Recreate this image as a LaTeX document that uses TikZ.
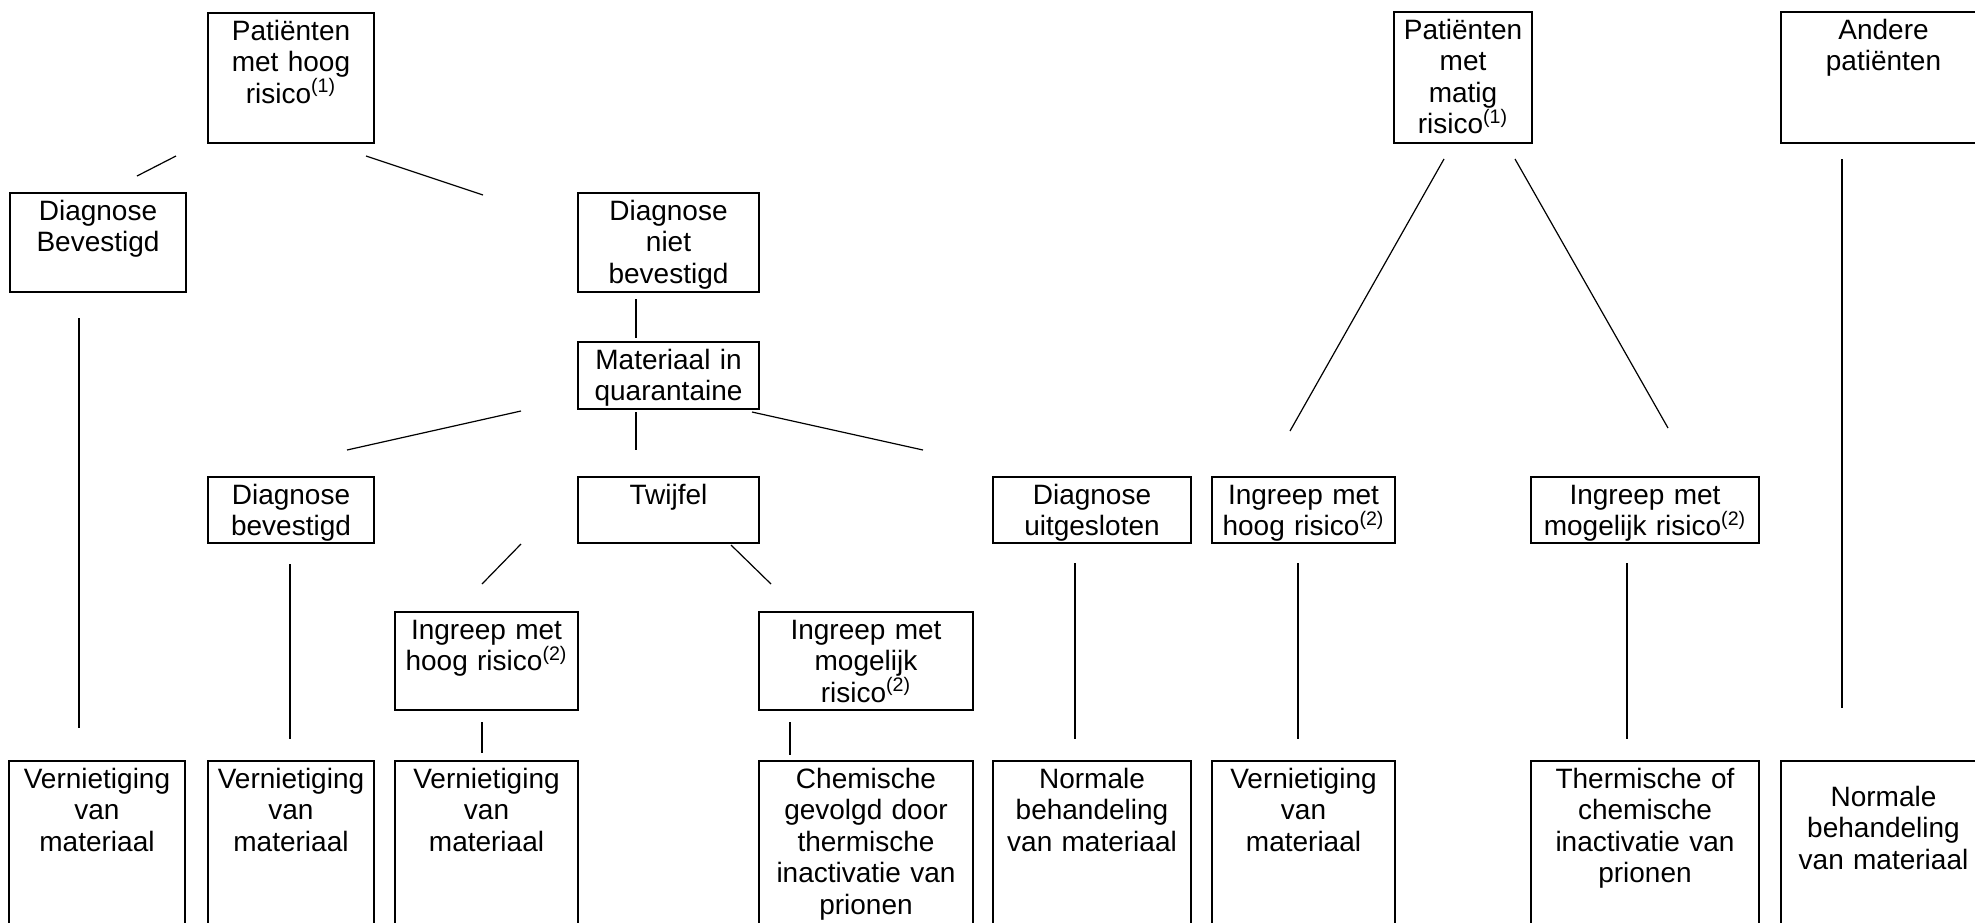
\documentclass[tikz,border=0pt]{standalone}
\usepackage{fontspec}
\setmainfont{Liberation Sans}

\begin{document}
\begin{tikzpicture}[x=0.5pt, y=-0.5pt, every node/.style={draw, line width=0.9pt, anchor=north west, align=center, inner xsep=0pt, inner ysep=3.5pt, outer sep=0pt, text height=10pt, font=\fontsize{14}{15.75}\selectfont}, link/.style={line width=0.6pt}]
\useasboundingbox (0,0) rectangle (1975,922);
\clip (0,0) rectangle (1975,922);

\node[text width=83pt, text depth=48pt] (hoog) at (208,13) {Patiënten\\met hoog\\risico\textsuperscript{(1)}};
\node[text width=69pt, text depth=48.5pt] (matig) at (1394,12) {Patiënten\\met\\matig\\risico\textsuperscript{(1)}};
\node[text width=102.5pt, text depth=48.5pt] (andere) at (1781,12) {Andere\\patiënten};

\node[text width=88pt, text depth=32.5pt] (dbev) at (10,193) {Diagnose\\Bevestigd};
\node[text width=90.5pt, text depth=32.5pt] (dniet) at (578,193) {Diagnose\\niet\\bevestigd};
\node[text width=90.5pt, text depth=16.5pt] (quar) at (578,342) {Materiaal in\\quarantaine};

\node[text width=83pt, text depth=16pt] (dbev2) at (208,477) {Diagnose\\bevestigd};
\node[text width=90.5pt, text depth=16pt] (twijfel) at (578,477) {Twijfel};
\node[text width=99pt, text depth=16pt] (duit) at (993,477) {Diagnose\\uitgesloten};
\node[text width=91.5pt, text depth=16pt] (ihr2) at (1212,477) {Ingreep met\\hoog risico\textsuperscript{(2)}};
\node[text width=114pt, text depth=16pt] (imr2) at (1531,477) {Ingreep met\\mogelijk risico\textsuperscript{(2)}};

\node[text width=91.5pt, text depth=32pt] (ihr) at (395,612) {Ingreep met\\hoog risico\textsuperscript{(2)}};
\node[text width=107pt, text depth=32pt] (imr) at (759,612) {Ingreep met\\mogelijk\\risico\textsuperscript{(2)}};

\node[text width=88pt, text depth=83pt] (v1) at (9,761) {Vernietiging\\van\\materiaal};
\node[text width=83pt, text depth=83pt] (v2) at (208,761) {Vernietiging\\van\\materiaal};
\node[text width=91.5pt, text depth=83pt] (v3) at (395,761) {Vernietiging\\van\\materiaal};
\node[text width=107pt, text depth=83pt] (chem) at (759,761) {Chemische\\gevolgd door\\thermische\\inactivatie van\\prionen};
\node[text width=99pt, text depth=83pt] (norm1) at (993,761) {Normale\\behandeling\\van materiaal};
\node[text width=91.5pt, text depth=83pt] (v4) at (1212,761) {Vernietiging\\van\\materiaal};
\node[text width=114pt, text depth=83pt] (therm) at (1531,761) {Thermische of\\chemische\\inactivatie van\\prionen};
\node[text width=102.5pt, text height=19pt, text depth=74pt] (norm2) at (1781,761) {Normale\\behandeling\\van materiaal};

\draw[link] ([shift={(-32,13)}]hoog.south west) -- ([shift={(-49,-17)}]dbev.north east);
\draw[link] ([shift={(-8,13)}]hoog.south east) -- ([shift={(-95,2)}]dniet.north west);
\draw[link] ([shift={(58,7)}]dniet.south west) -- ([shift={(58,-4)}]quar.north west);
\draw[link] ([shift={(-57,2)}]quar.south west) -- ([shift={(-27,-27)}]dbev2.north east);
\draw[link] ([shift={(58,3)}]quar.south west) -- ([shift={(58,-27)}]twijfel.north west);
\draw[link] ([shift={(-7,3)}]quar.south east) -- ([shift={(-70,-27)}]duit.north west);
\draw[link] ([shift={(69,26)}]dbev.south west) -- ([shift={(70,-33)}]v1.north west);
\draw[link] ([shift={(82,21)}]dbev2.south west) -- ([shift={(82,-22)}]v2.north west);
\draw[link] ([shift={(-57,1)}]twijfel.south west) -- ([shift={(87,-28)}]ihr.north west);
\draw[link] ([shift={(-28,2)}]twijfel.south east) -- ([shift={(12,-28)}]imr.north west);
\draw[link] ([shift={(87,12)}]ihr.south west) -- ([shift={(87,-8)}]v3.north west);
\draw[link] ([shift={(31,12)}]imr.south west) -- ([shift={(31,-6)}]chem.north west);
\draw[link] ([shift={(50,16)}]matig.south west) -- ([shift={(78,-46)}]ihr2.north west);
\draw[link] ([shift={(-17,16)}]matig.south east) -- ([shift={(137,-49)}]imr2.north west);
\draw[link] ([shift={(61,16)}]andere.south west) -- ([shift={(61,-53)}]norm2.north west);
\draw[link] ([shift={(82,20)}]duit.south west) -- ([shift={(82,-22)}]norm1.north west);
\draw[link] ([shift={(86,20)}]ihr2.south west) -- ([shift={(86,-22)}]v4.north west);
\draw[link] ([shift={(96,20)}]imr2.south west) -- ([shift={(96,-22)}]therm.north west);
\end{tikzpicture}
\end{document}
